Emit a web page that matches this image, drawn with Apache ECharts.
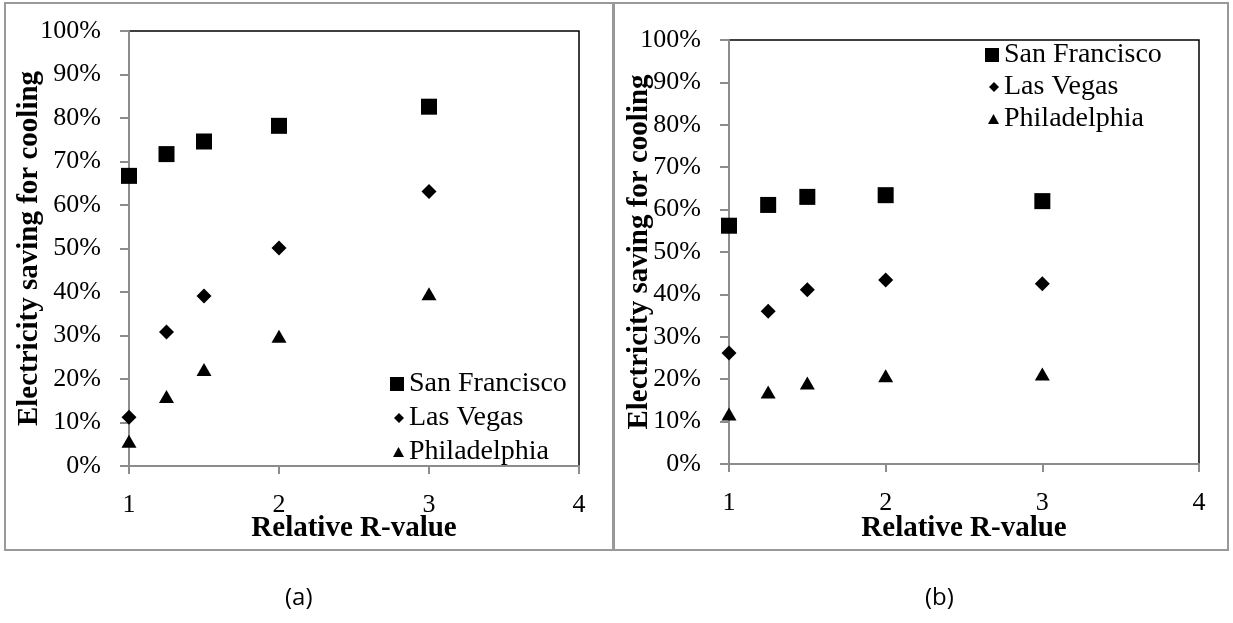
<!DOCTYPE html>
<html>
<head>
<meta charset="utf-8">
<script src="https://cdn.jsdelivr.net/npm/echarts@6/dist/echarts.min.js"></script>
<style>
  html, body { margin: 0; padding: 0; background: #fff; }
  #chart { width: 1233px; height: 623px; }
</style>
</head>
<body>
<div id="chart"></div>
<script>
// relative R-value (x) and cooling savings in % (y)
const rValues = [1, 1.25, 1.5, 2, 3];
const cities = ['San Francisco', 'Las Vegas', 'Philadelphia'];
const symbols = ['rect', 'diamond', 'triangle'];

// panel (a)
const sanFranciscoA = [66.7, 71.7, 74.6, 78.2, 82.6];
const lasVegasA = [11.2, 30.8, 39.1, 50.1, 63.1];
const philadelphiaA = [5.7, 16.0, 22.2, 29.8, 39.6];

// panel (b)
const sanFranciscoB = [56.2, 61.1, 63.0, 63.4, 62.0];
const lasVegasB = [26.2, 36.0, 41.1, 43.4, 42.5];
const philadelphiaB = [11.8, 17.0, 19.1, 20.8, 21.2];

const xTicks = [1, 4, 1];       // min, max, interval
const yTicks = [0, 100, 10];

const serif = 'Liberation Serif';
const axisGrey = '#8c8c8c';

const chart = echarts.init(document.getElementById('chart'));

function pairs(ys) {
    return rValues.map((x, i) => [x, ys[i]]);
}

// marker sizes in the plot: square, diamond, triangle
const markSize = [[16, 16], [15, 15], [15, 13]];
// legend icon sizes
const iconSize = [[14, 14], [10, 10], [11, 10]];

const plainText = { fontFamily: serif, fontWeight: 'normal', fontStyle: 'normal', color: '#000' };
const boldText = { fontFamily: serif, fontWeight: 'bold', fontSize: 29, color: '#000' };

function buildXAxis(idx, gap) {
    return {
        gridIndex: idx, type: 'value',
        min: xTicks[0], max: xTicks[1], interval: xTicks[2],
        name: 'Relative R-value', nameLocation: 'middle', nameGap: gap,
        nameMoveOverlap: false,
        nameTextStyle: boldText,
        axisLine: { show: true, onZero: false, lineStyle: { color: axisGrey, width: 2 } },
        axisTick: { show: true, length: 8, lineStyle: { color: axisGrey, width: 2 } },
        axisLabel: Object.assign({ fontSize: 26, margin: 26 }, plainText),
        splitLine: { show: false }
    };
}

function buildYAxis(idx, gap) {
    return {
        gridIndex: idx, type: 'value',
        min: yTicks[0], max: yTicks[1], interval: yTicks[2],
        name: 'Electricity saving for cooling', nameLocation: 'middle', nameGap: gap,
        nameMoveOverlap: false,
        nameTextStyle: boldText,
        axisLine: { show: true, onZero: false, lineStyle: { color: axisGrey, width: 2 } },
        axisTick: { show: true, length: 9, lineStyle: { color: axisGrey, width: 2 } },
        axisLabel: Object.assign({ fontSize: 26, margin: 28, formatter: '{value}%' }, plainText),
        splitLine: { show: false }
    };
}

function buildSeries(idx, dataList) {
    return dataList.map((ys, k) => ({
        name: cities[k], type: 'scatter',
        xAxisIndex: idx, yAxisIndex: idx,
        symbol: symbols[k], symbolSize: markSize[k],
        itemStyle: { color: '#000', opacity: 1 },
        data: pairs(ys)
    }));
}

// one legend per city so each icon can have its own size
function buildLegends(textLeft, rowTops) {
    return cities.map((c, k) => ({
        data: [{ name: c, icon: symbols[k] }],
        left: textLeft - 5 - iconSize[k][0], top: rowTops[k],
        padding: 0, selectedMode: false,
        itemWidth: iconSize[k][0], itemHeight: iconSize[k][1],
        itemStyle: { color: '#000', opacity: 1 },
        textStyle: Object.assign({ fontSize: 28, lineHeight: 30 }, plainText)
    }));
}

const option = {
    animation: false,
    backgroundColor: '#fff',
    textStyle: { fontFamily: serif },
    grid: [
        { left: 129, top: 31, width: 450, height: 435, show: true, borderColor: '#000', borderWidth: 1.5 },
        { left: 729, top: 40, width: 470, height: 424, show: true, borderColor: '#000', borderWidth: 1.5 }
    ],
    xAxis: [buildXAxis(0, 48), buildXAxis(1, 50)],
    yAxis: [buildYAxis(0, 85), buildYAxis(1, 75)],
    legend: buildLegends(409, [369, 403, 437]).concat(buildLegends(1004, [40, 72, 104])),
    series: buildSeries(0, [sanFranciscoA, lasVegasA, philadelphiaA])
        .concat(buildSeries(1, [sanFranciscoB, lasVegasB, philadelphiaB])),
    graphic: [
        { type: 'rect', shape: { x: 5, y: 3, width: 608, height: 547 },
          style: { fill: 'none', stroke: '#999', lineWidth: 2 }, silent: true },
        { type: 'rect', shape: { x: 614, y: 3, width: 614, height: 547 },
          style: { fill: 'none', stroke: '#999', lineWidth: 2 }, silent: true },
        { type: 'text', left: 285, top: 586,
          style: { text: '(a)', fontFamily: 'Open Sans', fontSize: 24, fill: '#000' } },
        { type: 'text', left: 925, top: 586,
          style: { text: '(b)', fontFamily: 'Open Sans', fontSize: 24, fill: '#000' } }
    ]
};

chart.setOption(option);
</script>
</body>
</html>
